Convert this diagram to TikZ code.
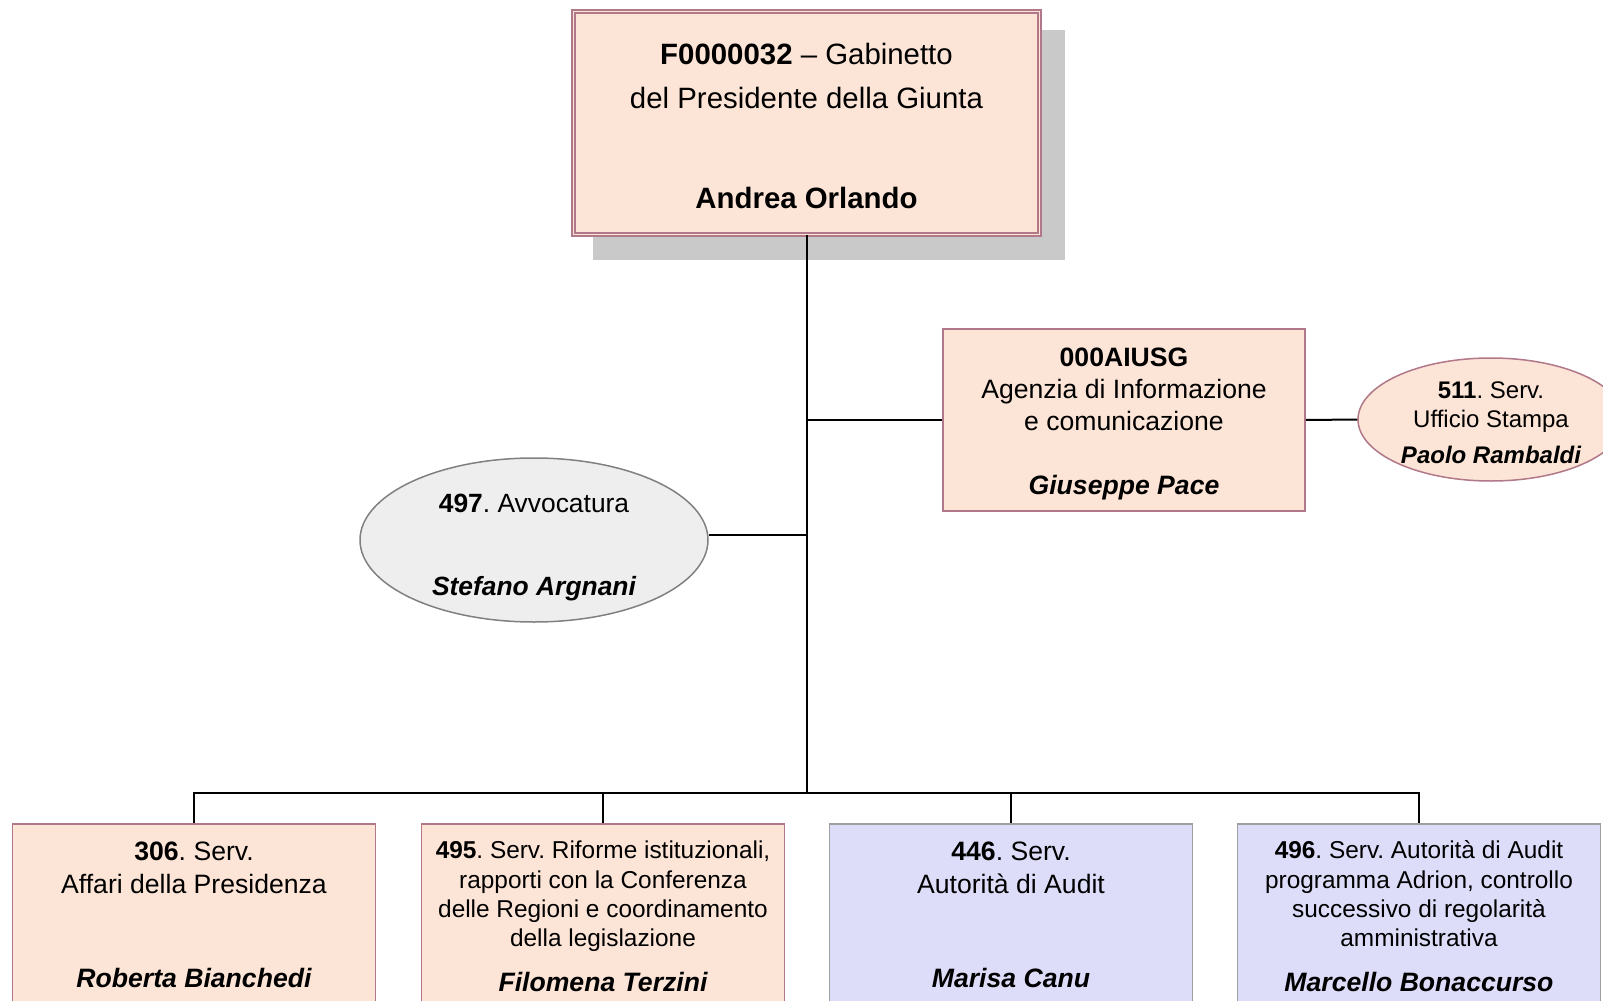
\documentclass[tikz,border=0pt]{standalone}
\usepackage{fontspec}
\setmainfont{Liberation Sans}
\usetikzlibrary{shapes.geometric,backgrounds,calc}
\definecolor{peach}{HTML}{FCE4D6}
\definecolor{mauve}{HTML}{B07888}
\definecolor{lilac}{HTML}{DDDDFA}
\definecolor{boxgray}{HTML}{9E9E9E}
\definecolor{ellgray}{HTML}{EEEEEE}
\definecolor{ellline}{HTML}{808080}
\definecolor{shadowgray}{HTML}{C9C9C9}
\frenchspacing
\begin{document}
\begin{tikzpicture}[x=0.5pt,y=-0.5pt,
  conn/.style={draw=black,line width=1pt},
  topbox/.style={rectangle,fill=peach,draw=mauve,line width=0.9pt,double=peach,double distance=0.8pt,
    minimum width=232.9pt,minimum height=111.4pt,inner sep=0pt,align=center,
    font=\fontsize{14.7}{22}\selectfont},
  peachbox/.style={rectangle,fill=peach,draw=mauve,line width=0.75pt,inner sep=0pt,align=center},
  bluebox/.style={rectangle,fill=lilac,draw=boxgray,line width=0.9pt,inner sep=0pt,align=center},
  unitbox/.style={minimum width=181.5pt,minimum height=91pt},
  bigfont/.style={font=\fontsize{13.3}{16.25}\selectfont},
  smallfont/.style={font=\fontsize{12.2}{14.6}\selectfont},
  ovalgray/.style={ellipse,fill=ellgray,draw=ellline,line width=0.75pt,inner sep=0pt,align=center},
  ovalpeach/.style={ellipse,fill=peach,draw=mauve,line width=0.75pt,inner sep=0pt,align=center},
  shadowbox/.style={fill=shadowgray}
]
\useasboundingbox (0,0) rectangle (1603,1001);
\clip (0,0) rectangle (1603,1001);

\node[topbox] (top) at (806.5,123)
  {\rule{0pt}{14pt}{\bfseries F0000032} – Gabinetto\\del Presidente della Giunta\\[28pt]{\bfseries Andrea Orlando}};
\begin{scope}[on background layer]
  \fill[shadowbox] ($(top.north west)+(19.9,19.4)$) rectangle ($(top.south east)+(25.1,24.6)$);
\end{scope}

\node[peachbox,minimum width=181pt,minimum height=91pt,font=\fontsize{13.3}{16}\selectfont] (agency) at (1124,420)
  {\rule{0pt}{13pt}{\bfseries 000AIUSG}\\Agenzia di Informazione\\e comunicazione\\[16pt]{\bfseries\itshape Giuseppe Pace}};

\node[ovalpeach,minimum width=133pt,minimum height=61.5pt,inner ysep=-1.25pt,font=\fontsize{12}{14.5}\selectfont] (e511) at (1491,419.5)
  {\rule{0pt}{11.3pt}{\bfseries 511}. Serv.\\Ufficio Stampa\\[3.5pt]{\bfseries\itshape Paolo Rambaldi}};

\node[ovalgray,minimum width=174pt,minimum height=82pt,inner ysep=-3.5pt,font=\fontsize{13.2}{16}\selectfont] (e497) at (534,540)
  {\rule{0pt}{16.5pt}{\bfseries 497}. Avvocatura\\[25.5pt]{\bfseries\itshape Stefano Argnani}};

\node[peachbox,unitbox,bigfont] (b1) at (194,915)
  {{\bfseries 306}. Serv.\\Affari della Presidenza\\[31pt]{\bfseries\itshape Roberta Bianchedi}};
\node[peachbox,unitbox,smallfont] (b2) at (603,915)
  {\rule{0pt}{10.5pt}{\bfseries 495}. Serv. Riforme istituzionali,\\rapporti con la Conferenza\\delle Regioni e coordinamento\\della legislazione\\[8pt]{\fontsize{13.3}{16}\selectfont\bfseries\itshape Filomena Terzini}};
\node[bluebox,unitbox,bigfont] (b3) at (1011,915)
  {{\bfseries 446}. Serv.\\Autorità di Audit\\[31pt]{\bfseries\itshape Marisa Canu}};
\node[bluebox,unitbox,smallfont] (b4) at (1419,915)
  {\rule{0pt}{10.5pt}{\bfseries 496}. Serv. Autorità di Audit\\programma Adrion, controllo\\successivo di regolarità\\amministrativa\\[8pt]{\fontsize{13.3}{16}\selectfont\bfseries\itshape Marcello Bonaccurso}};

\coordinate (j1) at (806.5,420);
\coordinate (j2) at (806.5,535);
\coordinate (j3) at (806.5,793);

\draw[conn] (top.south) -- (j3);
\draw[conn] (j1) -- (agency.west);
\draw[conn] (j2) -- (e497.east |- j2);
\draw[conn] (agency.east) -- (e511.west);
\draw[conn] (b1.north) |- (j3) -| (b4.north);
\draw[conn] (b2.north) -- (b2.north |- j3);
\draw[conn] (b3.north) -- (b3.north |- j3);
\end{tikzpicture}
\end{document}
